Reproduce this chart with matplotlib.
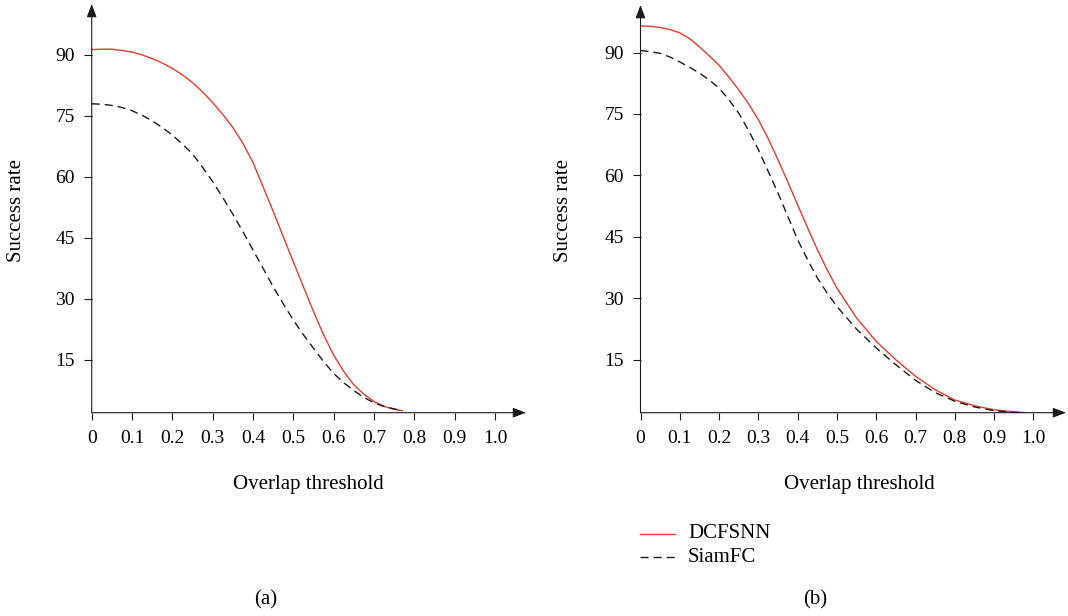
import numpy as np
import matplotlib
matplotlib.use("Agg")
import matplotlib.pyplot as plt

plt.rcParams.update({
    "font.family": "Liberation Serif", "font.size": 14,
    "axes.linewidth": 0.8,
})

# ── data ────────────────────────────────────────────────────────────────────
x_a = [0, 0.025, 0.05, 0.075, 0.1, 0.125, 0.15, 0.175, 0.2, 0.225, 0.25,
       0.275, 0.3, 0.325, 0.35, 0.375, 0.4, 0.425, 0.45, 0.475, 0.5, 0.525,
       0.55, 0.575, 0.6, 0.625, 0.65, 0.675, 0.7, 0.725, 0.75, 0.77]
dcfsnn_a = [91.2, 91.3, 91.3, 91.0, 90.6, 89.9, 89.0, 87.9, 86.6, 85.0, 83.1,
            80.8, 78.2, 75.3, 72.1, 68.2, 63.5, 57.5, 51.5, 45.3, 39.1, 33.0,
            26.9, 21.2, 16.2, 12.2, 8.9, 6.6, 4.8, 3.6, 2.9, 2.55]
siamfc_a = [77.9, 77.8, 77.5, 77.0, 76.2, 75.1, 73.7, 72.1, 70.2, 68.0, 65.6,
            62.3, 58.8, 54.9, 50.8, 46.5, 42.0, 37.5, 33.0, 28.8, 24.8, 21.2,
            17.9, 14.6, 11.7, 9.4, 7.5, 5.8, 4.5, 3.6, 3.0, 2.55]

x_b = [0, 0.025, 0.05, 0.075, 0.1, 0.125, 0.15, 0.175, 0.2, 0.225, 0.25,
       0.275, 0.3, 0.325, 0.35, 0.375, 0.4, 0.425, 0.45, 0.475, 0.5,
       0.55, 0.6, 0.65, 0.7, 0.75, 0.8, 0.85, 0.9, 0.95, 0.98]
dcfsnn_b = [96.5, 96.4, 96.1, 95.6, 94.8, 93.4, 91.4, 89.2, 86.9, 84.0, 80.9,
            77.5, 73.6, 69.0, 63.8, 58.4, 52.8, 47.3, 41.9, 37.0, 32.5,
            25.2, 19.5, 15.0, 11.0, 7.7, 5.2, 3.8, 2.8, 2.3, 2.1]
siamfc_b = [90.5, 90.2, 89.8, 88.9, 87.7, 86.4, 85.0, 83.3, 81.3, 78.5, 75.2,
            71.0, 66.3, 61.0, 55.7, 50.0, 44.3, 39.5, 35.0, 31.3, 28.0,
            22.5, 17.9, 13.8, 10.0, 7.0, 4.9, 3.5, 2.6, 2.2, 2.1]

x_ticks = [0, 0.1, 0.2, 0.3, 0.4, 0.5, 0.6, 0.7, 0.8, 0.9, 1.0]
x_ticklabels = ["0", "0.1", "0.2", "0.3", "0.4", "0.5", "0.6", "0.7",
                "0.8", "0.9", "1.0"]
y_ticks = [15, 30, 45, 60, 75, 90]

RED = "#e63b2e"
BLACK = "#1a1a1a"
DASH = (5.8, 3.6)
W, H = 1068, 616

fig = plt.figure(figsize=(W / 100, H / 100), dpi=100)


def px(x, y):
    return x / W, 1 - y / H


def make_axes(left, right, top, bottom, xmax, ylo, yhi):
    ax = fig.add_axes([left / W, 1 - bottom / H, (right - left) / W, (bottom - top) / H])
    ax.set_xlim(0, xmax)
    ax.set_ylim(ylo, yhi)
    for s in ax.spines.values():
        s.set_visible(False)
    arrow = dict(arrowstyle="-|>,head_length=0.8,head_width=0.3", color=BLACK,
                 lw=0.8, shrinkA=0, shrinkB=0, mutation_scale=10)
    ax.annotate("", xy=(1, 0), xytext=(0, 0), xycoords="axes fraction",
                arrowprops=arrow)
    ax.annotate("", xy=(0, 1), xytext=(0, 0), xycoords="axes fraction",
                arrowprops=arrow)
    ax.set_xticks(x_ticks)
    ax.set_xticklabels(x_ticklabels)
    ax.set_yticks(y_ticks)
    ax.tick_params(axis="x", length=5.3, width=0.8, pad=7, color=BLACK)
    ax.tick_params(axis="y", length=6, width=0.8, pad=6, color=BLACK)
    return ax


ax_a = make_axes(91.7, 526, 4, 412.7, 1.077, 2.06, 102.4)
ax_a.plot(x_a, dcfsnn_a, color=RED, lw=1.0)
ax_a.plot(x_a, siamfc_a, color=BLACK, lw=1.0, dashes=DASH)

ax_b = make_axes(640.5, 1066, 5, 412.7, 1.083, 2.1, 101.6)
ax_b.plot(x_b, dcfsnn_b, color=RED, lw=1.0)
ax_b.plot(x_b, siamfc_b, color=BLACK, lw=1.0, dashes=DASH)

# labels
for cx, yl_x, tag_x, tag in [(308, 16.7, 266, "(a)"), (859, 564, 815, "(b)")]:
    fig.text(*px(cx, 485), "Overlap threshold", ha="center", va="center", fontsize=15)
    fig.text(*px(yl_x, 211), "Success rate", ha="center", va="center",
             rotation=90, fontsize=15)
    fig.text(*px(tag_x, 600), tag, ha="center", va="center", fontsize=15)

# legend drawn by hand below panel (b)
for yy, color, dash, name in [(534, RED, None, "DCFSNN"), (557, BLACK, DASH, "SiamFC")]:
    x0, y0 = px(640, yy)
    x1, _ = px(675, yy)
    ln = plt.Line2D([x0, x1], [y0, y0], color=color, lw=1.0,
                    transform=fig.transFigure)
    if dash:
        ln.set_dashes(dash)
    fig.add_artist(ln)
    fig.text(*px(688, yy), name, ha="left", va="center", fontsize=15)

fig.savefig("out.png", dpi=100)
